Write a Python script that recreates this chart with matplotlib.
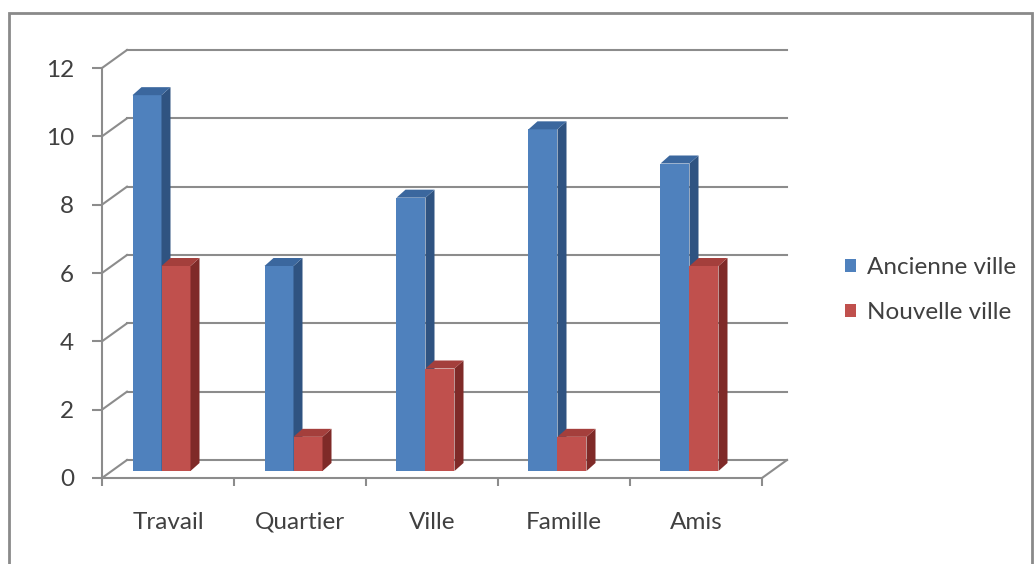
import matplotlib.pyplot as plt
from matplotlib.patches import Polygon, Patch, Rectangle

categories = ['Travail', 'Quartier', 'Ville', 'Famille', 'Amis']
ancienne = [11, 6, 8, 10, 9]
nouvelle = [6, 1, 3, 1, 6]
series_names = ['Ancienne ville', 'Nouvelle ville']
yticks = [0, 2, 4, 6, 8, 10, 12]

blue = ('#4F81BD', '#2F5381', '#3B679E')   # front, side, top
red = ('#C0504D', '#7F2A28', '#A43F3C')
grid_col = '#8C8C8C'
text_col = '#404040'
fs = 17.5

plt.rcParams['font.family'] = ['Lato', 'DejaVu Sans']

W, H = 1035, 564
fig = plt.figure(figsize=(W / 100, H / 100), dpi=100)
# front plane of the 3d box
ax = fig.add_axes([102 / W, (H - 478) / H, 660 / W, 410 / H])
ax.set_xlim(-0.5, len(categories) - 0.5)
ax.set_ylim(0, 12)

px_x = 132.0          # pixels per category
px_y = 410.0 / 12     # pixels per unit
wdx, wdy = 25 / px_x, 18 / px_y     # wall depth
bdx, bdy = 9 / px_x, 8 / px_y       # bar depth
base_dx, base_dy = 10 / px_x, 7 / px_y
bw = 29 / px_x
shift = -6.5 / px_x

x_left, x_right = -0.5, len(categories) - 0.5

# back wall gridlines + left wall slants
for v in yticks:
    ax.plot([x_left + wdx, x_right + wdx], [v + wdy, v + wdy], color=grid_col,
            lw=1.5, clip_on=False, zorder=1)
    ax.plot([x_left, x_left + wdx], [v, v + wdy], color=grid_col,
            lw=1.5, clip_on=False, zorder=1)
# floor right edge
ax.plot([x_right, x_right + wdx], [0, wdy], color=grid_col, lw=1.5,
        clip_on=False, zorder=1)


def bar3d(x0, h, cols):
    y0 = base_dy
    x0 = x0 + base_dx
    front = [(x0, y0), (x0 + bw, y0), (x0 + bw, y0 + h), (x0, y0 + h)]
    side = [(x0 + bw, y0), (x0 + bw + bdx, y0 + bdy),
            (x0 + bw + bdx, y0 + h + bdy), (x0 + bw, y0 + h)]
    top = [(x0, y0 + h), (x0 + bw, y0 + h),
           (x0 + bw + bdx, y0 + h + bdy), (x0 + bdx, y0 + h + bdy)]
    for pts, c in zip((front, side, top), cols):
        ax.add_patch(Polygon(pts, closed=True, facecolor=c, edgecolor='none',
                             clip_on=False, zorder=3))


for i in range(len(categories)):
    c = i + shift - base_dx
    bar3d(c - bw, ancienne[i], blue)
    bar3d(c, nouvelle[i], red)

# axes
for s in ['top', 'right']:
    ax.spines[s].set_visible(False)
for s in ['left', 'bottom']:
    ax.spines[s].set_color(grid_col)
    ax.spines[s].set_linewidth(1.5)
ax.set_yticks(yticks)
ax.set_yticklabels([str(v) for v in yticks])
ax.tick_params(axis='y', length=7, width=1.5, color=grid_col, pad=13,
               labelsize=fs, labelcolor=text_col)
ax.set_xticks([x_left + k for k in range(len(categories) + 1)])
ax.set_xticklabels([])
ax.tick_params(axis='x', length=6, width=1.5, color=grid_col)
for i, name in enumerate(categories):
    ax.text(i, -51 / px_y, name, ha='center', va='baseline', fontsize=fs,
            color=text_col)

handles = [Patch(facecolor=blue[0]), Patch(facecolor=red[0])]
fig.legend(handles, series_names, loc='center left',
           bbox_to_anchor=(845 / W, (H - 290) / H), frameon=False,
           fontsize=fs, labelcolor=text_col, handlelength=0.45,
           handleheight=0.45, handletextpad=0.45, labelspacing=1.0,
           borderpad=0, borderaxespad=0)

# chart area border
fig.patches.append(Rectangle((9 / W, -0.1), 1023 / W, (H - 13) / H + 0.1,
                             transform=fig.transFigure, fill=False,
                             edgecolor='#8A8A8A', lw=2))

fig.savefig('out.png', dpi=100)
